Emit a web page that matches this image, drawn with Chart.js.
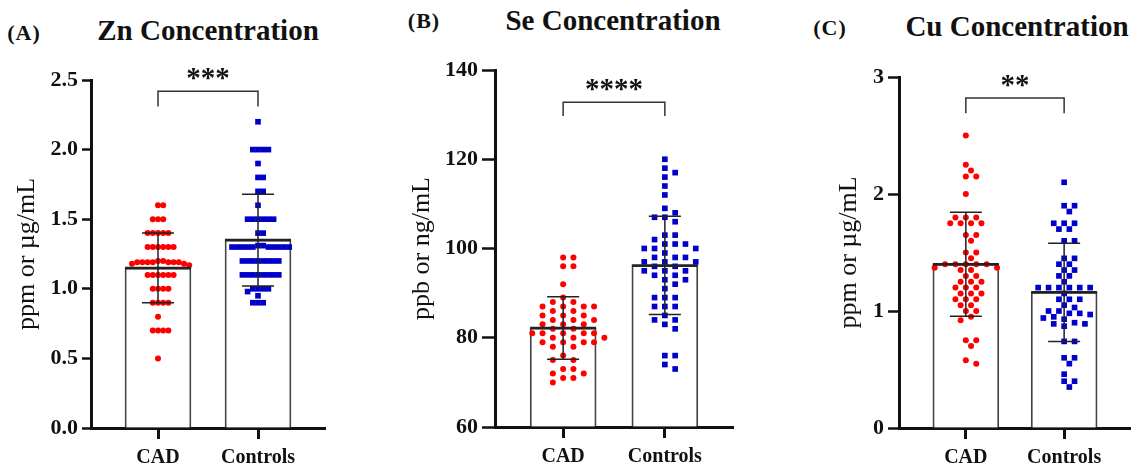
<!DOCTYPE html>
<html>
<head>
<meta charset="utf-8">
<script src="https://cdn.jsdelivr.net/npm/chart.js@4.4.0/dist/chart.umd.min.js"></script>
<style>
  body { margin: 0; background: #fff; width: 1134px; height: 465px; overflow: hidden; position: relative; font-family: "Liberation Serif", serif; color: #111; }
  canvas { position: absolute; top: 0; }
  .t { position: absolute; transform: translate(-50%, -50%); font-weight: bold; white-space: nowrap; line-height: 1; }
  .title { font-size: 29px; }
  .tag { font-size: 22px; letter-spacing: 1px; }
</style>
</head>
<body>
<div class="t tag" style="left:24px;top:33px">(A)</div>
<div class="t title" style="left:208px;top:30px">Zn Concentration</div>
<div class="t tag" style="left:424px;top:21px">(B)</div>
<div class="t title" style="left:613px;top:20px">Se Concentration</div>
<div class="t tag" style="left:830px;top:28px">(C)</div>
<div class="t title" style="left:1017px;top:26px">Cu Concentration</div>

<canvas id="zn" width="380" height="465" style="left:0"></canvas>
<canvas id="se" width="380" height="465" style="left:380px"></canvas>
<canvas id="cu" width="374" height="465" style="left:760px"></canvas>

<script>
const categories = ['CAD', 'Controls'];

// Zn (ppm)
const znCAD = [1.6, 1.6, 1.5, 1.5, 1.5, 1.4, 1.4, 1.4, 1.4, 1.4, 1.3, 1.3, 1.3, 1.3, 1.3, 1.3,
  1.19, 1.19, 1.19, 1.19, 1.19, 1.19, 1.17, 1.18, 1.2, 1.2, 1.19, 1.18,
  1.1, 1.1, 1.1, 1.1, 1.1, 1.1, 1.0, 1.0, 1.0, 1.0, 0.9, 0.9, 0.9, 0.9, 0.8, 0.7, 0.7, 0.7, 0.7, 0.5];
const znControls = [2.2, 2.0, 2.0, 2.0, 2.0, 1.9, 1.8, 1.8, 1.7, 1.7, 1.6, 1.5, 1.5, 1.5, 1.5, 1.5, 1.5, 1.4, 1.4,
  1.3, 1.3, 1.3, 1.3, 1.3, 1.3, 1.3, 1.3, 1.3, 1.3, 1.31, 1.31,
  1.2, 1.2, 1.2, 1.2, 1.2, 1.2, 1.2, 1.2, 1.1, 1.1, 1.1, 1.1, 1.1, 1.1, 1.1, 1.1,
  1.0, 1.0, 1.0, 1.0, 0.98, 0.95, 0.9, 0.9, 0.9];
const znMean = [1.15, 1.35];
const znSd = [0.25, 0.33];

// Se (ppb)
const seCAD = [98, 98, 96, 96, 92, 89, 88, 88, 87, 87, 87, 87, 86, 86, 85, 85, 85, 84, 84, 84, 83, 83, 83, 82, 82,
  81, 81, 81, 81, 81, 80, 80, 80, 79, 79, 79, 79, 78, 78, 76, 75, 75, 73, 73, 72, 72, 71, 71, 70];
const seControls = [120, 118, 117, 116, 114, 112, 109, 108, 107, 107, 106, 103, 103, 102, 101, 101, 101, 100, 100, 100,
  99, 98, 98, 98, 97, 97, 97, 96, 96, 95, 95, 95, 94, 94, 93, 93, 92, 91, 89, 89, 89, 87, 87, 87,
  85, 84, 84, 83, 82, 76, 76, 74, 73];
const seMean = [82.2, 96.2];
const seSd = [7.0, 11.0];

// Cu (ppm)
const cuCAD = [2.5, 2.25, 2.2, 2.15, 2.15, 2.0, 1.8, 1.8, 1.8, 1.75, 1.75, 1.75, 1.75, 1.65, 1.65, 1.6, 1.5, 1.5, 1.45,
  1.4, 1.4, 1.4, 1.4, 1.4, 1.37, 1.37, 1.35, 1.35, 1.3, 1.3, 1.25, 1.25, 1.25, 1.2, 1.2, 1.2, 1.15, 1.15, 1.15,
  1.1, 1.1, 1.1, 1.05, 1.05, 1.0, 1.0, 0.95, 0.92, 0.75, 0.75, 0.7, 0.58, 0.55];
const cuControls = [2.1, 1.9, 1.9, 1.85, 1.75, 1.75, 1.75, 1.7, 1.7, 1.6, 1.6, 1.45, 1.45, 1.4, 1.4, 1.35, 1.35, 1.3, 1.3,
  1.25, 1.2, 1.2, 1.2, 1.2, 1.2, 1.2, 1.15, 1.1, 1.05, 1.1, 1.1, 0.98, 0.98, 1.0, 0.95, 0.9, 1.03, 0.97,
  1.0, 0.93, 0.89, 0.94, 0.89, 0.87, 0.74, 0.74, 0.6, 0.6, 0.55, 0.46, 0.4, 0.4, 0.35];
const cuMean = [1.40, 1.16];
const cuSd = [0.445, 0.42];

Chart.defaults.font.family = '"Liberation Serif", serif';
Chart.defaults.color = '#111';

// error bars, mean line and significance bracket
const marks = {
  id: 'marks',
  afterDatasetsDraw(chart, args, o) {
    const { ctx, scales: { x, y } } = chart;
    ctx.save();
    ctx.strokeStyle = '#222';
    o.mean.forEach((m, i) => {
      const cx = x.getPixelForValue(i);
      const hi = y.getPixelForValue(m + o.sd[i]);
      const lo = y.getPixelForValue(m - o.sd[i]);
      const my = y.getPixelForValue(m);
      ctx.lineWidth = 1.5;
      ctx.beginPath();
      ctx.moveTo(cx, hi); ctx.lineTo(cx, lo);
      ctx.moveTo(cx - 16, hi); ctx.lineTo(cx + 16, hi);
      ctx.moveTo(cx - 16, lo); ctx.lineTo(cx + 16, lo);
      ctx.stroke();
      ctx.lineWidth = 2.5;
      ctx.beginPath();
      ctx.moveTo(cx - 33, my); ctx.lineTo(cx + 33, my);
      ctx.stroke();
    });
    const x0 = x.getPixelForValue(0), x1 = x.getPixelForValue(1);
    const ly = y.getPixelForValue(o.sig.y), lb = y.getPixelForValue(o.sig.leg);
    ctx.strokeStyle = '#333';
    ctx.lineWidth = 1.5;
    ctx.beginPath();
    ctx.moveTo(x0, lb); ctx.lineTo(x0, ly); ctx.lineTo(x1, ly); ctx.lineTo(x1, lb);
    ctx.stroke();
    ctx.fillStyle = '#111';
    ctx.font = 'bold 29px "Liberation Serif"';
    ctx.textAlign = 'center';
    ctx.textBaseline = 'alphabetic';
    ctx.fillText(o.sig.text, (x0 + x1) / 2, ly - 4);
    ctx.restore();
  }
};

// simple beeswarm on a pixel grid
function swarm(pys, sw) {
  const placed = [];
  const offs = new Array(pys.length);
  const idx = pys.map((p, i) => i).sort((a, b) => pys[a] - pys[b]);
  idx.forEach(i => {
    for (let k = 0; k < 200; k++) {
      const c = k === 0 ? 0 : (k % 2 ? 1 : -1) * Math.ceil(k / 2) * sw.step;
      const hit = placed.some(p => {
        const dx = (p.x - c) / sw.w, dy = (p.y - pys[i]) / sw.h;
        return dx * dx + dy * dy < 1;
      });
      if (!hit) { placed.push({ x: c, y: pys[i] }); offs[i] = c; break; }
    }
  });
  return offs;
}

function makePanel(id, p) {
  const chart = new Chart(document.getElementById(id), {
    type: 'bar',
    data: {
      datasets: [
        {
          type: 'bar',
          data: p.mean.map((m, i) => ({ x: i, y: m })),
          backgroundColor: '#fff',
          borderColor: '#444',
          borderWidth: 1.8,
          barThickness: 66,
          base: p.min,
          order: 3
        },
        {
          type: 'scatter',
          data: p.groups[0].map(v => ({ x: 0, y: v })),
          backgroundColor: '#ff0000',
          pointRadius: 3,
          pointBorderWidth: 0,
          order: 1
        },
        {
          type: 'scatter',
          data: p.groups[1].map(v => ({ x: 1, y: v })),
          backgroundColor: '#0000c8',
          pointStyle: 'rect',
          pointRadius: 4,
          pointBorderWidth: 0,
          order: 1
        }
      ]
    },
    options: {
      responsive: false,
      animation: false,
      layout: { padding: { left: p.pad.left, top: p.pad.top, right: p.pad.right, bottom: 0 } },
      plugins: {
        legend: { display: false },
        tooltip: { enabled: false },
        marks: { mean: p.mean, sd: p.sd, sig: p.sig }
      },
      scales: {
        x: {
          type: 'linear',
          min: p.xMin,
          max: p.xMax,
          offset: false,
          afterBuildTicks: s => { s.ticks = categories.map((c, i) => ({ value: i })); },
          afterFit: s => { s.height = 465 - p.bottom; },
          ticks: {
            callback: v => categories[v],
            font: { size: 20, weight: 'bold' },
            padding: 7,
            autoSkip: false,
            maxRotation: 0
          },
          grid: { drawOnChartArea: false, drawTicks: true, tickLength: 11, tickWidth: 3, tickColor: '#111', offset: false },
          border: { display: true, width: 3, color: '#111' }
        },
        y: {
          type: 'linear',
          min: p.min,
          max: p.max,
          afterFit: s => { s.width = p.yWidth; },
          ticks: {
            stepSize: p.step,
            callback: v => v.toFixed(p.digits),
            font: { size: 22, weight: 'bold' },
            padding: 4
          },
          grid: { drawOnChartArea: false, drawTicks: true, tickLength: p.tickLen, tickWidth: 2.5, tickColor: '#111' },
          border: { display: true, width: 3, color: '#111' },
          title: {
            display: true,
            text: p.yTitle,
            font: { size: 26 },
            color: '#111',
            padding: { top: 4, bottom: 4 }
          }
        }
      }
    },
    plugins: [marks]
  });

  const { x, y } = chart.scales;
  const unit = x.getPixelForValue(1) - x.getPixelForValue(0);
  p.groups.forEach((vals, g) => {
    const offs = swarm(vals.map(v => y.getPixelForValue(v)), p.swarm);
    chart.data.datasets[g + 1].data = vals.map((v, i) => ({ x: g + offs[i] / unit, y: v }));
  });
  chart.update('none');
  return chart;
}

makePanel('zn', {
  groups: [znCAD, znControls], mean: znMean, sd: znSd,
  min: 0, max: 2.5, step: 0.5, digits: 1, yTitle: 'ppm or µg/mL',
  sig: { text: '***', y: 2.42, leg: 2.31 },
  pad: { left: 8, top: 80, right: 55 }, bottom: 428, yWidth: 83, tickLen: 9,
  xMin: -0.67, xMax: 1.67, swarm: { step: 5.2, w: 5, h: 5 }
});

makePanel('se', {
  groups: [seCAD, seControls], mean: seMean, sd: seSd,
  min: 60, max: 140, step: 20, digits: 0, yTitle: 'ppb or ng/mL',
  sig: { text: '****', y: 132.8, leg: 129.7 },
  pad: { left: 23, top: 70, right: 27 }, bottom: 427, yWidth: 92, tickLen: 13,
  xMin: -0.67, xMax: 1.67, swarm: { step: 10.3, w: 10, h: 8 }
});

makePanel('cu', {
  groups: [cuCAD, cuControls], mean: cuMean, sd: cuSd,
  min: 0, max: 3, step: 1, digits: 0, yTitle: 'ppm or µg/mL',
  sig: { text: '**', y: 2.82, leg: 2.69 },
  pad: { left: 70, top: 77, right: 0 }, bottom: 428, yWidth: 69, tickLen: 11,
  xMin: -0.68, xMax: 1.67, swarm: { step: 5.2, w: 10, h: 6.5 }
});
</script>
</body>
</html>
